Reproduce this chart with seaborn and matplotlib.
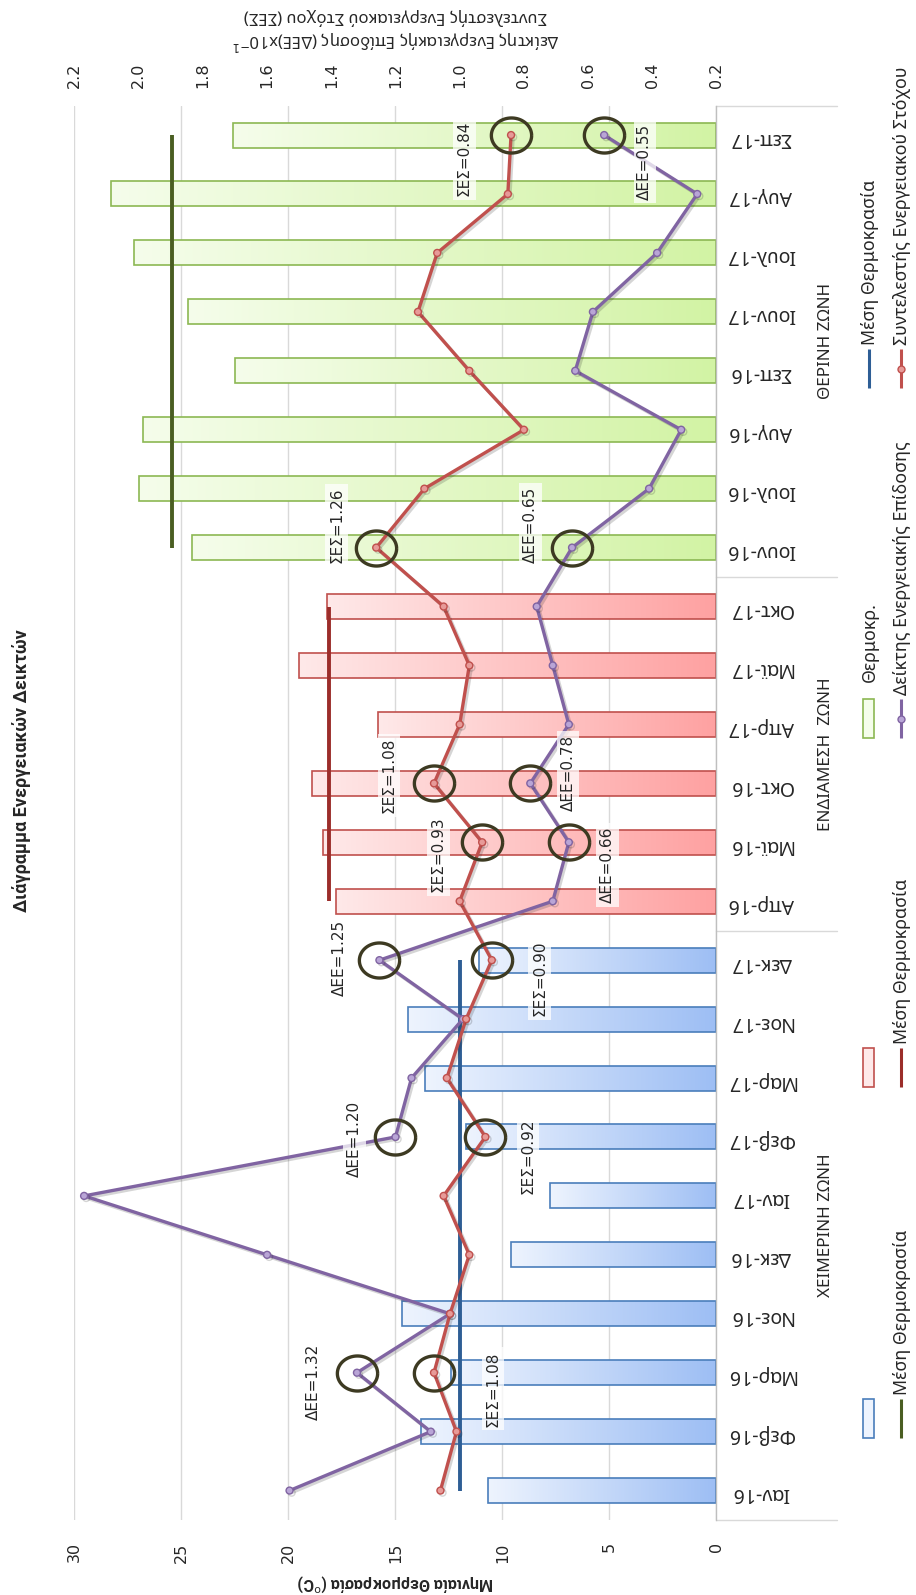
import numpy as np
import pandas as pd
import matplotlib
matplotlib.use("Agg")
import matplotlib.pyplot as plt
import matplotlib.patheffects as pe
import matplotlib.transforms as mtransforms
from matplotlib.colors import LinearSegmentedColormap
from matplotlib.patches import Rectangle
from matplotlib.path import Path
import seaborn as sns

# ---------------------------------------------------------------- data
months = ["Ιαν-16", "Φεβ-16", "Μαρ-16", "Νοε-16", "Δεκ-16", "Ιαν-17", "Φεβ-17",
          "Μαρ-17", "Νοε-17", "Δεκ-17",
          "Απρ-16", "Μαϊ-16", "Οκτ-16", "Απρ-17", "Μαϊ-17", "Οκτ-17",
          "Ιουν-16", "Ιουλ-16", "Αυγ-16", "Σεπ-16", "Ιουν-17", "Ιουλ-17",
          "Αυγ-17", "Σεπ-17"]
zone_names = ["ΧΕΙΜΕΡΙΝΗ ΖΩΝΗ", "ΕΝΔΙΑΜΕΣΗ  ΖΩΝΗ", "ΘΕΡΙΝΗ ΖΩΝΗ"]
zone_sizes = [10, 6, 8]

# monthly mean temperature (°C)
temperature = [10.7, 13.8, 12.4, 14.7, 9.6, 7.8, 11.7, 13.6, 14.4, 11.1,
               17.8, 18.4, 18.9, 15.8, 19.5, 18.2,
               24.5, 27.0, 26.8, 22.5, 24.7, 27.2, 28.3, 22.6]
# energy performance index ΔΕΕ (x10^-1)
dee = [1.53, 1.09, 1.32, 1.03, 1.60, 2.17, 1.20, 1.15, 0.99, 1.25,
       0.71, 0.66, 0.78, 0.66, 0.71, 0.76,
       0.65, 0.41, 0.31, 0.64, 0.585, 0.385, 0.26, 0.55]
# energy target coefficient ΣΕΣ
ses = [1.06, 1.01, 1.08, 1.03, 0.97, 1.05, 0.92, 1.04, 0.98, 0.90,
       1.00, 0.93, 1.08, 1.00, 0.97, 1.05,
       1.26, 1.11, 0.80, 0.97, 1.13, 1.07, 0.85, 0.84]

temp_ticks = [0, 5, 10, 15, 20, 25, 30]
index_ticks = [0.2, 0.4, 0.6, 0.8, 1.0, 1.2, 1.4, 1.6, 1.8, 2.0, 2.2]

# highlighted points: (series, month)
highlights = [("ΔΕΕ", "Μαρ-16"), ("ΣΕΣ", "Μαρ-16"),
              ("ΔΕΕ", "Φεβ-17"), ("ΣΕΣ", "Φεβ-17"),
              ("ΔΕΕ", "Δεκ-17"), ("ΣΕΣ", "Δεκ-17"),
              ("ΣΕΣ", "Μαϊ-16"), ("ΔΕΕ", "Μαϊ-16"),
              ("ΣΕΣ", "Οκτ-16"), ("ΔΕΕ", "Οκτ-16"),
              ("ΣΕΣ", "Ιουν-16"), ("ΔΕΕ", "Ιουν-16"),
              ("ΣΕΣ", "Σεπ-17"), ("ΔΕΕ", "Σεπ-17")]
# label offsets in points for each highlighted point
label_offsets = [(-31.5, -6.6), (42.5, -11.7),
                 (-29.3, -1.5), (30.8, -13.9),
                 (-28.6, 1.5), (34.5, -13.2),
                 (-31.5, -8.8), (27.9, -16.1),
                 (-32.3, 5.9), (27.1, 7.3),
                 (-28.6, 16.1), (-30.1, 16.1),
                 (-33.7, -16.9), (29.3, -19.1)]

# ---------------------------------------------------------------- style
sns.set_theme(style="white")
plt.rcParams["font.family"] = ["DejaVu Sans"]
SANS = ["Noto Sans", "DejaVu Sans"]
BOLD = ["Roboto", "DejaVu Sans"]

zone_style = {
    zone_names[0]: dict(dark="#9dbef4", light="#eef4fe", edge="#4a7ebb", mean="#2e5e95"),
    zone_names[1]: dict(dark="#ffa1a1", light="#fee9e9", edge="#c0504d", mean="#9b2d2a"),
    zone_names[2]: dict(dark="#d2f3a4", light="#f5fdeb", edge="#8cb853", mean="#4a5e22"),
}
RED, PURPLE = "#c0504d", "#8064a2"
GRID = "#d9d9d9"
INK = "#262626"

zones = list(np.repeat(zone_names, zone_sizes))
pos = np.arange(len(months))
df = pd.DataFrame({"month": months, "temp": temperature, "zone": zones})

fig = plt.figure(figsize=(9.16, 15.95), dpi=100)
ax = fig.add_axes([0.0813, 0.047, 0.7009, 0.8868])

# ---------------------------------------------------------------- bars
sns.barplot(data=df, x="temp", y="month", hue="zone", order=months,
            hue_order=zone_names, palette={z: s["dark"] for z, s in zone_style.items()},
            dodge=False, orient="h", width=0.424, saturation=1, legend=False, ax=ax)

grad = np.linspace(0, 1, 256)[None, :]
for bar in list(ax.patches):
    yc = bar.get_y() + bar.get_height() / 2
    st = zone_style[zones[int(round(yc))]]
    cmap = LinearSegmentedColormap.from_list("bar", [st["dark"], st["light"]])
    x0, w = bar.get_x(), bar.get_width()
    img = ax.imshow(grad, cmap=cmap, aspect="auto", interpolation="bilinear",
                    extent=(x0, x0 + w, bar.get_y(), bar.get_y() + bar.get_height()),
                    zorder=1.5)
    img.set_clip_path(bar)
    bar.set_facecolor("none")
    bar.set_edgecolor(st["edge"])
    bar.set_linewidth(1.2)
    bar.set_zorder(1.6)

# zone mean temperature lines
start = 0
for name, n in zip(zone_names, zone_sizes):
    m = float(np.mean(temperature[start:start + n]))
    ax.plot([m, m], [pos[start], pos[start + n - 1]], color=zone_style[name]["mean"],
            lw=2.8, solid_capstyle="butt", zorder=3)
    start += n

ax.set_xlim(30, 0)
ax.set_ylim(-0.5, 23.5)
ax.set_xlabel("")
ax.set_ylabel("")
ax.grid(True, axis="x", color=GRID, lw=1)
ax.grid(False, axis="y")
ax.set_axisbelow(True)
for side in ("top", "left", "bottom"):
    ax.spines[side].set_visible(False)
ax.spines["right"].set_color("#bfbfbf")
ax.spines["right"].set_linewidth(1)

ax.set_xticks(temp_ticks)
ax.set_xticklabels([str(t) for t in temp_ticks])
ax.tick_params(axis="x", bottom=True, labelbottom=True, top=False, labeltop=False,
               length=0, pad=16, labelsize=11.5, labelrotation=90, colors=INK)

ax.set_yticks(pos)
ax.set_yticklabels(months)
ax.yaxis.tick_right()
ax.tick_params(axis="y", length=0, pad=32, labelsize=14, labelrotation=180, colors=INK)
for lbl in ax.get_yticklabels():
    lbl.set_ha("center")
    lbl.set_family(SANS)

# zone labels and separators in the category label area
blend = mtransforms.blended_transform_factory(ax.transAxes, ax.transData)
start = 0
for name, n in zip(zone_names, zone_sizes):
    ax.text(1.1706, (pos[start] + pos[start + n - 1]) / 2, name, transform=blend,
            rotation=90, ha="center", va="center", fontsize=12.3, family=SANS, color=INK)
    start += n
for b in [-0.5, 9.5, 15.5, 23.5]:
    ax.plot([1.0, 1.187], [b, b], transform=blend, color=GRID, lw=1, clip_on=False)

# ---------------------------------------------------------------- index lines
ax2 = ax.twiny()
ax2.set_xlim(2.2, 0.2)
shadow = [pe.SimpleLineShadow(offset=(1.5, -1.5), shadow_color="k", alpha=0.18),
          pe.Normal()]
sns.lineplot(x=dee, y=pos, ax=ax2, sort=False, orient="y", estimator=None,
             color=PURPLE, lw=2.4, marker="o", markersize=5,
             markerfacecolor="#b9a5d6", markeredgecolor=PURPLE, markeredgewidth=1)
sns.lineplot(x=ses, y=pos, ax=ax2, sort=False, orient="y", estimator=None,
             color=RED, lw=2.4, marker="o", markersize=5,
             markerfacecolor="#e79a98", markeredgecolor=RED, markeredgewidth=1)
for ln in ax2.lines:
    ln.set_path_effects(shadow)
ax2.set_xlabel("")
ax2.set_ylabel("")
ax.set_ylim(-0.5, 23.5)
for sp in ax2.spines.values():
    sp.set_visible(False)
ax2.set_xticks(index_ticks)
ax2.set_xticklabels([f"{v:.1f}" for v in index_ticks])
ax2.tick_params(axis="x", top=True, labeltop=True, bottom=False, labelbottom=False,
                length=0, pad=13, labelsize=11.5, labelrotation=90, colors=INK)

# highlight rings and value labels
series = {"ΔΕΕ": dee, "ΣΕΣ": ses}
t = np.linspace(0, 2 * np.pi, 80)
ring = Path(np.column_stack([np.cos(t), 0.87 * np.sin(t)]))
for (key, month), (dx, dy) in zip(highlights, label_offsets):
    i = months.index(month)
    v = series[key][i]
    ax2.plot([v], [pos[i]], ls="none", marker=ring, ms=29, mfc="none",
             mec="#3d3a22", mew=2.4, zorder=6)
    ax2.annotate(f"{key}={v:.2f}", (v, pos[i]), xytext=(dx, dy),
                 textcoords="offset points", rotation=90, ha="center", va="center",
                 fontsize=11, color=INK, zorder=7,
                 bbox=dict(boxstyle="square,pad=0.25", fc="white", ec="none", alpha=0.75))

# ---------------------------------------------------------------- titles
cx = 395.5 / 916
fig.text(0.0235, 0.517, "Διάγραμμα Ενεργειακών Δεικτών", rotation=90,
         ha="center", va="center", fontsize=13, fontweight="bold", family=BOLD,
         color=INK)
fig.text(cx, 0.008, "Μηνιαία Θερμοκρασία ($^{\\mathrm{o}}$C)", rotation=180,
         ha="center", va="center", fontsize=11.5, fontweight="bold", family=BOLD,
         color=INK)
fig.text(cx, 1 - 40 / 1595, "Δείκτης Ενεργειακής Επίδοσης (ΔΕΕ)x10$^{-1}$",
         rotation=180, ha="center", va="center", fontsize=12, family=SANS, color=INK)
fig.text(cx, 1 - 17 / 1595, "Συντελεστής Ενεργειακού Στόχου (ΣΕΣ)",
         rotation=180, ha="center", va="center", fontsize=12, family=SANS, color=INK)

# ---------------------------------------------------------------- legend
lax = fig.add_axes([0, 0, 1, 1])
lax.set_xlim(0, 916)
lax.set_ylim(1595, 0)
lax.axis("off")

def patch_entry(x, y0, y1, zone, label=None, text_gap=5):
    st = zone_style[zone]
    lax.add_patch(Rectangle((x - 5.5, y0), 11, y1 - y0, fc=st["light"],
                            ec=st["edge"], lw=1.2))
    if label:
        lax.text(x + 1, y0 - text_gap, label, rotation=90, ha="center", va="bottom",
                 fontsize=12.8, family=SANS, color=INK)

def line_entry(x, y0, y1, color, label, marker=None, mfc=None):
    lax.plot([x, x], [y0, y1], color=color, lw=2.2, solid_capstyle="butt")
    if marker:
        lax.plot([x], [(y0 + y1) / 2], marker=marker, ms=5, mfc=mfc, mec=color, mew=1)
    lax.text(x + 1, y0 - 4, label, rotation=90, ha="center", va="bottom",
             fontsize=12.8, family=SANS, color=INK)

patch_entry(868.5, 1399, 1438, zone_names[0])
patch_entry(868.5, 1048, 1087, zone_names[1])
patch_entry(868.5, 699, 738, zone_names[2], "Θερμοκρ.", text_gap=17)
line_entry(869, 349, 388, zone_style[zone_names[0]]["mean"], "Μέση Θερμοκρασία")
line_entry(901, 1399, 1438, zone_style[zone_names[2]]["mean"], "Μέση Θερμοκρασία")
line_entry(901, 1048, 1087, zone_style[zone_names[1]]["mean"], "Μέση Θερμοκρασία")
line_entry(901, 699, 738, PURPLE, "Δείκτης Ενεργειακής Επίδοσης", "o", "#b9a5d6")
line_entry(901, 349, 388, RED, "Συντελεστής Ενεργειακού Στόχου", "o", "#e79a98")

fig.savefig("out.png", dpi=100, facecolor="white")
